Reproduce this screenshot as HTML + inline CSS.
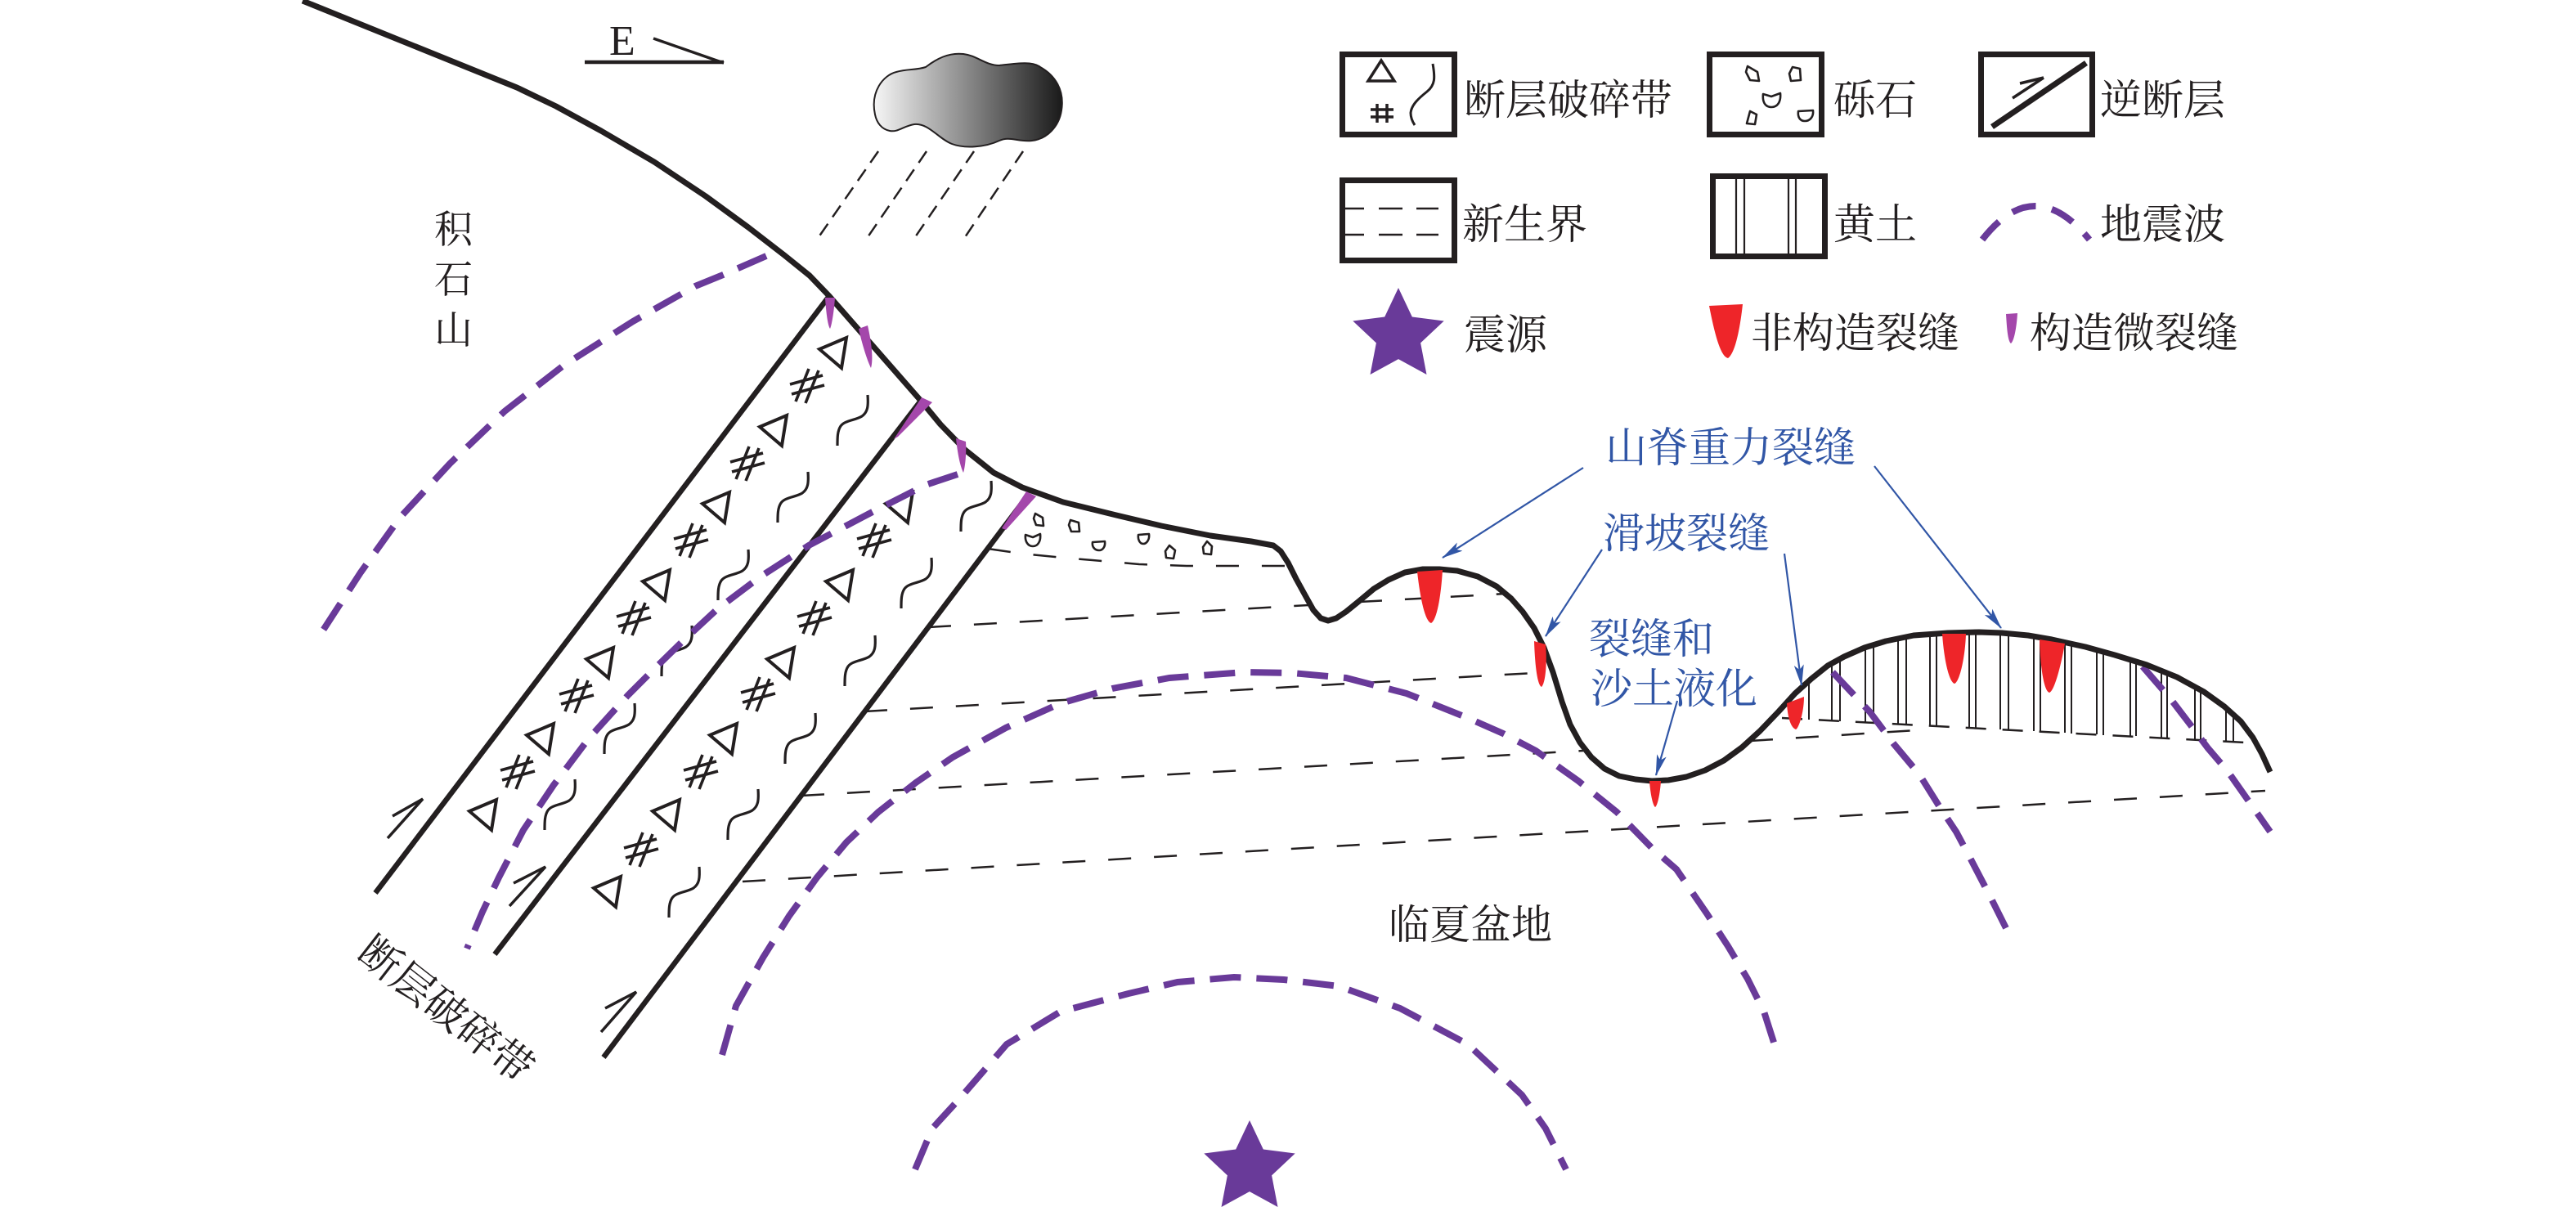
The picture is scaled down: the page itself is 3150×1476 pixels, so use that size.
<!DOCTYPE html>
<html><head><meta charset="utf-8">
<style>
html,body{margin:0;padding:0;background:#fff;}
svg{display:block;}
.t{font-family:"Liberation Serif","Noto Serif CJK SC",serif;fill:#231f20;}
.b{font-family:"Liberation Serif","Noto Serif CJK SC",serif;fill:#3156a6;}
.tri{fill:none;stroke:#231f20;stroke-width:4;stroke-linejoin:miter;}
.hs{fill:none;stroke:#231f20;stroke-width:3.6;}
.wv{fill:none;stroke:#231f20;stroke-width:3.2;}
.dl{fill:none;stroke:#231f20;stroke-width:2.5;stroke-dasharray:28 28;}
.arc{fill:none;stroke:#693a99;stroke-width:8;stroke-dasharray:38 19;}
.red{fill:#ee2529;}
.mag{fill:#a447ab;}
.blu{stroke:#3156a6;stroke-width:2.2;fill:none;}
.gr{fill:none;stroke:#231f20;stroke-width:2.6;stroke-linejoin:round;}
</style></head><body>
<svg width="3150" height="1476" viewBox="0 0 3150 1476" xmlns="http://www.w3.org/2000/svg">
<defs>
 <linearGradient id="cg" x1="0" y1="0" x2="1" y2="0">
  <stop offset="0" stop-color="#f6f6f6"/><stop offset="1" stop-color="#1a1a1a"/>
 </linearGradient>
 <marker id="ah" markerUnits="userSpaceOnUse" viewBox="0 0 26 12" refX="25" refY="6" markerWidth="26" markerHeight="12" orient="auto">
  <path d="M0,0 L26,6 L0,12 L6,6 Z" fill="#3156a6"/>
 </marker>
</defs>

<!-- ============ LEGEND ============ -->
<rect x="1641.5" y="66.5" width="137" height="98" fill="none" stroke="#231f20" stroke-width="7"/>
<path d="M1689,74 L1673,99 L1705,99 Z" fill="none" stroke="#231f20" stroke-width="3.5"/>
<path d="M1684,127 V150 M1696,127 V150 M1676,134 H1704 M1676,143 H1704" fill="none" stroke="#231f20" stroke-width="3.5"/>
<path d="M1752,78 C1755,95 1755,104 1745,112 C1735,120 1726,128 1725,138 C1725,145 1728,150 1730,153" fill="none" stroke="#231f20" stroke-width="3"/>
<text class="t" x="1790" y="140" font-size="51">断层破碎带</text>

<rect x="2090.5" y="66.5" width="137" height="98" fill="none" stroke="#231f20" stroke-width="7"/>
<path class="gr" d="M2137,81 L2149,88 L2151,99 L2140,98 L2135,88 Z"/>
<path class="gr" d="M2192,82 L2201,84 L2202,98 L2190,99 L2188,90 Z"/>
<path class="gr" d="M2156,115 L2166,118 L2177,114 C2178,124 2174,131 2166,131 C2158,131 2155,124 2156,115 Z"/>
<path class="gr" d="M2140,136 L2148,140 L2146,152 L2136,151 Z"/>
<path class="gr" d="M2199,136 L2217,135 C2218,143 2213,148 2207,148 C2201,148 2198,143 2199,136 Z"/>
<text class="t" x="2242" y="140" font-size="51">砾石</text>

<rect x="2422.5" y="66.5" width="136" height="98" fill="none" stroke="#231f20" stroke-width="7"/>
<path d="M2436,155 L2551,77" stroke="#231f20" stroke-width="7"/>
<path d="M2461,120 L2499,95 M2470,102 L2499,95" stroke="#231f20" stroke-width="3.5" fill="none"/>
<text class="t" x="2568" y="140" font-size="51">逆断层</text>

<rect x="1641.5" y="220.5" width="137" height="98" fill="none" stroke="#231f20" stroke-width="7"/>
<path d="M1645,255 h23 M1686,255 h29 M1732,255 h27 M1645,287 h23 M1686,287 h29 M1732,287 h27" stroke="#231f20" stroke-width="2.5"/>
<text class="t" x="1788" y="292" font-size="51">新生界</text>

<rect x="2094.5" y="215.5" width="137" height="98" fill="none" stroke="#231f20" stroke-width="7"/>
<path d="M2123,215 V314 M2133,215 V314 M2187,215 V314 M2196,215 V314" stroke="#231f20" stroke-width="2.2"/>
<text class="t" x="2242" y="292" font-size="51">黄土</text>

<path d="M2424,293 Q2488,211 2555,293" fill="none" stroke="#693a99" stroke-width="8" stroke-dasharray="30 20"/>
<text class="t" x="2568" y="292" font-size="51">地震波</text>

<polygon fill="#693a99" points="1710,352 1726.8,387.5 1765.7,392.5 1737.1,419.4 1744.5,458 1710,439.1 1675.5,458 1682.9,419.4 1654.3,392.5 1693.2,387.5"/>
<text class="t" x="1790" y="427" font-size="51">震源</text>

<path class="red" d="M2090,374 L2131,372 C2128,400 2122,432 2113,438 C2104,436 2097,410 2090,374 Z"/>
<text class="t" x="2141" y="425" font-size="51">非构造裂缝</text>
<path class="mag" d="M2453,384 L2467,383 C2466,400 2463,417 2459,420 C2455,417 2454,400 2453,384 Z"/>
<text class="t" x="2482" y="425" font-size="51">构造微裂缝</text>

<!-- ============ TOP LEFT: E arrow, cloud, rain ============ -->
<text x="745" y="67" font-size="52" font-family="Liberation Serif, serif" fill="#231f20">E</text>
<path d="M715,76 L885,76" stroke="#231f20" stroke-width="4.5"/>
<path d="M799,47 L885,77" stroke="#231f20" stroke-width="3.5"/>

<path d="M1070,140 C1064,112 1080,92 1096,88 C1110,84 1120,86 1132,82 C1145,72 1160,64 1178,66 C1195,68 1205,80 1222,80 C1240,78 1262,74 1272,82 C1290,92 1302,110 1298,135 C1295,155 1280,170 1262,172 C1245,174 1235,166 1222,172 C1205,180 1180,182 1164,176 C1148,170 1135,150 1118,152 C1105,154 1098,162 1088,160 C1078,158 1072,150 1070,140 Z" fill="url(#cg)" stroke="#231f20" stroke-width="2"/>
<g stroke="#231f20" stroke-width="2.5" stroke-dasharray="17 10" fill="none">
 <path d="M1074,185 L1001,290"/>
 <path d="M1133,185 L1061,290"/>
 <path d="M1191,185 L1119,290"/>
 <path d="M1251,185 L1180,290"/>
</g>

<!-- 积石山 -->
<text class="t" x="531" y="297" font-size="47">积</text>
<text class="t" x="531" y="358" font-size="47">石</text>
<text class="t" x="531" y="420" font-size="47">山</text>

<!-- ============ STRATA DASHED LINES ============ -->
<polyline class="dl" points="1208,671 1250,677 1300,682 1336,685 1393,690 1451,692 1520,692 1577,692"/>
<polyline class="dl" points="1135,767 1600,740"/>
<polyline class="dl" points="1662,736 1842,726"/>
<polyline class="dl" points="1057,870 1893,822"/>
<polyline class="dl" points="980,973 1936,918"/>
<polyline class="dl" points="2140,906 2343,893"/>
<polyline class="dl" points="908,1078 2770,967"/>
<polyline points="2179,878 2746,908" fill="none" stroke="#231f20" stroke-width="2.5" stroke-dasharray="25 20"/>

<!-- loess vertical hatch -->
<path d="M2212,833 V880 M2240,811 V881 M2250,806 V882 M2281,792 V883 M2291,788 V884 M2321,781 V886 M2331,779 V886 M2360,775 V888 M2368,775 V888 M2408,773 V890 M2416,773 V891 M2446,774 V892 M2456,775 V893 M2487,778 V894 M2495,779 V895 M2525,786 V896 M2533,787 V897 M2564,795 V898 M2572,797 V899 M2605,807 V900 M2612,809 V900 M2643,820 V902 M2650,823 V902 M2684,840 V904 M2691,844 V904 M2722,866 V906 M2731,876 V907" stroke="#231f20" stroke-width="2"/>

<!-- ============ FAULT ZONE ============ -->
<g stroke="#231f20" stroke-width="6.5" fill="none">
 <path d="M1014,362 L459,1092"/>
 <path d="M1126,490 L605,1167"/>
 <path d="M1259,603 L738,1293"/>
</g>
<!-- half arrows -->
<g stroke="#231f20" stroke-width="3.5" fill="none">
 <path d="M474,1025 L517,977 L480,998"/>
 <path d="M623,1108 L667,1060 L628,1080"/>
 <path d="M735,1262 L778,1213 L740,1233"/>
</g>

<!-- triangles -->
<path class="tri" transform="translate(1002,413)" d="M33,0 L0,14 L27,37 Z"/>
<path class="tri" transform="translate(929,508)" d="M33,0 L0,14 L27,37 Z"/>
<path class="tri" transform="translate(859,602)" d="M33,0 L0,14 L27,37 Z"/>
<path class="tri" transform="translate(786,697)" d="M33,0 L0,14 L27,37 Z"/>
<path class="tri" transform="translate(717,792)" d="M33,0 L0,14 L27,37 Z"/>
<path class="tri" transform="translate(644,885)" d="M33,0 L0,14 L27,37 Z"/>
<path class="tri" transform="translate(574,978)" d="M33,0 L0,14 L27,37 Z"/>
<path class="tri" transform="translate(1083,602)" d="M33,0 L0,14 L27,37 Z"/>
<path class="tri" transform="translate(1010,697)" d="M33,0 L0,14 L27,37 Z"/>
<path class="tri" transform="translate(938,792)" d="M33,0 L0,14 L27,37 Z"/>
<path class="tri" transform="translate(868,885)" d="M33,0 L0,14 L27,37 Z"/>
<path class="tri" transform="translate(798,978)" d="M33,0 L0,14 L27,37 Z"/>
<path class="tri" transform="translate(726,1072)" d="M33,0 L0,14 L27,37 Z"/>
<!-- hashes -->
<path class="hs" transform="translate(966,451)" d="M23,0 L7,40 M35,2 L19,42 M0,19 L40,8 M2,31 L42,20"/>
<path class="hs" transform="translate(893,546)" d="M23,0 L7,40 M35,2 L19,42 M0,19 L40,8 M2,31 L42,20"/>
<path class="hs" transform="translate(824,640)" d="M23,0 L7,40 M35,2 L19,42 M0,19 L40,8 M2,31 L42,20"/>
<path class="hs" transform="translate(754,735)" d="M23,0 L7,40 M35,2 L19,42 M0,19 L40,8 M2,31 L42,20"/>
<path class="hs" transform="translate(684,830)" d="M23,0 L7,40 M35,2 L19,42 M0,19 L40,8 M2,31 L42,20"/>
<path class="hs" transform="translate(612,923)" d="M23,0 L7,40 M35,2 L19,42 M0,19 L40,8 M2,31 L42,20"/>
<path class="hs" transform="translate(1048,640)" d="M23,0 L7,40 M35,2 L19,42 M0,19 L40,8 M2,31 L42,20"/>
<path class="hs" transform="translate(975,735)" d="M23,0 L7,40 M35,2 L19,42 M0,19 L40,8 M2,31 L42,20"/>
<path class="hs" transform="translate(906,828)" d="M23,0 L7,40 M35,2 L19,42 M0,19 L40,8 M2,31 L42,20"/>
<path class="hs" transform="translate(836,923)" d="M23,0 L7,40 M35,2 L19,42 M0,19 L40,8 M2,31 L42,20"/>
<path class="hs" transform="translate(763,1018)" d="M23,0 L7,40 M35,2 L19,42 M0,19 L40,8 M2,31 L42,20"/>
<!-- waves -->
<path class="wv" transform="translate(1020,483)" d="M41,0 C42,14 41,21 34,26 C26,31 13,31 8,38 C4,44 4,52 4,62"/>
<path class="wv" transform="translate(947,577)" d="M41,0 C42,14 41,21 34,26 C26,31 13,31 8,38 C4,44 4,52 4,62"/>
<path class="wv" transform="translate(874,672)" d="M41,0 C42,14 41,21 34,26 C26,31 13,31 8,38 C4,44 4,52 4,62"/>
<path class="wv" transform="translate(805,765)" d="M41,0 C42,14 41,21 34,26 C26,31 13,31 8,38 C4,44 4,52 4,62"/>
<path class="wv" transform="translate(735,860)" d="M41,0 C42,14 41,21 34,26 C26,31 13,31 8,38 C4,44 4,52 4,62"/>
<path class="wv" transform="translate(662,953)" d="M41,0 C42,14 41,21 34,26 C26,31 13,31 8,38 C4,44 4,52 4,62"/>
<path class="wv" transform="translate(1171,588)" d="M41,0 C42,14 41,21 34,26 C26,31 13,31 8,38 C4,44 4,52 4,62"/>
<path class="wv" transform="translate(1098,682)" d="M41,0 C42,14 41,21 34,26 C26,31 13,31 8,38 C4,44 4,52 4,62"/>
<path class="wv" transform="translate(1029,777)" d="M41,0 C42,14 41,21 34,26 C26,31 13,31 8,38 C4,44 4,52 4,62"/>
<path class="wv" transform="translate(956,872)" d="M41,0 C42,14 41,21 34,26 C26,31 13,31 8,38 C4,44 4,52 4,62"/>
<path class="wv" transform="translate(886,965)" d="M41,0 C42,14 41,21 34,26 C26,31 13,31 8,38 C4,44 4,52 4,62"/>
<path class="wv" transform="translate(814,1060)" d="M41,0 C42,14 41,21 34,26 C26,31 13,31 8,38 C4,44 4,52 4,62"/>

<!-- gravels on surface -->
<path class="gr" d="M1266,628 L1275,633 L1276,643 L1267,642 L1264,634 Z"/>
<path class="gr" d="M1254,654 L1263,657 L1272,653 C1273,662 1269,668 1263,668 C1257,668 1253,662 1254,654 Z"/>
<path class="gr" d="M1309,636 L1319,639 L1320,650 L1310,650 L1307,642 Z"/>
<path class="gr" d="M1336,663 L1351,662 C1352,669 1348,673 1344,673 C1339,673 1335,669 1336,663 Z"/>
<path class="gr" d="M1392,654 L1405,653 C1406,660 1402,665 1398,665 C1394,665 1391,660 1392,654 Z"/>
<path class="gr" d="M1430,667 L1437,673 L1435,683 L1426,682 L1425,674 Z"/>
<path class="gr" d="M1476,662 L1482,668 L1481,678 L1472,677 L1471,669 Z"/>

<!-- ============ SEISMIC ARCS ============ -->
<polyline class="arc" points="937,313 882,337 850,350 774,393 689,447 617,503 550,567 489,633 441,700 389,780"/>
<polyline class="arc" points="1171,580 1132,593 1065,627 989,667 930,705 877,745 837,782 798,820 768,850 720,903 677,960 640,1015 610,1073 590,1115 571,1160"/>
<polyline class="arc" points="2241,822 2286,870 2316,910 2347,947 2372,987 2392,1017 2408,1047 2434,1097 2457,1143"/>
<polyline class="arc" points="2620,815 2653,853 2679,887 2700,915 2724,943 2750,980 2776,1017"/>
<polyline class="arc" points="883,1290 900,1230 933,1171 965,1120 999,1073 1035,1030 1074,993 1120,957 1165,926 1230,890 1297,860 1360,842 1430,829 1521,822 1580,823 1646,829 1720,848 1795,878 1838,897 1878,918 1930,955 1977,993 2020,1037 2050,1063 2087,1117 2113,1157 2137,1197 2157,1237 2172,1284"/>
<polyline class="arc" points="1119,1430 1140,1380 1173,1344 1231,1277 1297,1237 1380,1215 1440,1201 1509,1195 1570,1198 1637,1206 1712,1233 1795,1277 1861,1339 1890,1380 1915,1430"/>

<!-- ============ SURFACE ============ -->
<polyline fill="none" stroke="#231f20" stroke-width="7" stroke-linejoin="round" points="370,1 632,107 680,130 735,160 800,198 863,240 915,278 959,312 990,337 1014,362 1126,490 1150,519 1180,550 1215,578 1250,596 1300,614 1365,630 1420,643 1480,655 1530,662 1557,667 1566,674 1575,688 1585,708 1596,728 1606,746 1615,756 1624,759 1634,756 1646,748 1662,735 1680,720 1698,709 1718,700 1740,696 1760,696 1782,698 1807,705 1830,717 1848,732 1862,748 1876,768 1888,792 1899,822 1910,858 1920,886 1932,908 1946,926 1962,940 1980,949 2000,953 2020,955 2040,954 2062,950 2085,942 2108,930 2130,914 2152,894 2175,870 2195,848 2215,830 2235,814 2255,803 2280,792 2306,784 2340,777 2382,774 2420,773 2448,774 2480,777 2509,782 2550,791 2586,801 2625,813 2662,828 2695,846 2720,864 2740,882 2755,902 2766,922 2776,944"/>

<!-- magenta tectonic micro-cracks -->
<path class="mag" d="M1009,364 L1021,364 C1020,380 1017,398 1015,402 C1012,398 1010,380 1009,364 Z"/>
<path class="mag" d="M1050,402 L1061,398 C1066,420 1068,440 1065,450 C1060,440 1054,420 1050,402 Z"/>
<path class="mag" d="M1127,486 L1140,492 L1098,534 L1093,537 Z"/>
<path class="mag" d="M1169,536 L1181,540 C1182,555 1180,572 1178,578 C1174,570 1171,555 1169,536 Z"/>
<path class="mag" d="M1255,601 L1267,607 L1230,648 L1225,646 Z"/>

<!-- red non-tectonic cracks -->
<path class="red" d="M1733,699 L1764,697 C1762,730 1757,758 1750,762 C1743,760 1737,735 1733,699 Z"/>
<path class="red" d="M1876,784 L1890,788 C1892,810 1890,835 1885,840 C1880,838 1877,815 1876,784 Z"/>
<path class="red" d="M2017,955 L2031,955 C2030,970 2027,985 2024,987 C2021,985 2018,970 2017,955 Z"/>
<path class="red" d="M2185,860 L2206,852 C2206,870 2200,890 2196,892 C2190,890 2186,878 2185,860 Z"/>
<path class="red" d="M2375,775 L2404,775 C2403,805 2396,834 2390,836 C2383,834 2377,805 2375,775 Z"/>
<path class="red" d="M2494,782 L2525,787 C2520,815 2512,845 2506,847 C2499,845 2495,815 2494,782 Z"/>

<!-- epicenter star -->
<polygon fill="#693a99" points="1528,1370 1544.8,1405.5 1583.7,1410.5 1555.1,1437.4 1562.5,1476 1528,1457.1 1493.5,1476 1500.9,1437.4 1472.3,1410.5 1511.2,1405.5"/>

<!-- ============ BLUE LABELS & ARROWS ============ -->
<text class="b" x="1963" y="565" font-size="51">山脊重力裂缝</text>
<text class="b" x="1960" y="670" font-size="51">滑坡裂缝</text>
<text class="b" x="1943" y="799" font-size="51">裂缝和</text>
<text class="b" x="1945" y="860" font-size="51">沙土液化</text>
<path class="blu" d="M1936,572 L1764,682" marker-end="url(#ah)"/>
<path class="blu" d="M2292,570 L2447,768" marker-end="url(#ah)"/>
<path class="blu" d="M1959,672 L1890,778" marker-end="url(#ah)"/>
<path class="blu" d="M2182,677 L2203,838" marker-end="url(#ah)"/>
<path class="blu" d="M2051,857 L2025,948" marker-end="url(#ah)"/>

<!-- other labels -->
<text class="t" x="1698" y="1148" font-size="50">临夏盆地</text>
<text class="t" transform="translate(434,1170) rotate(38)" x="0" y="0" font-size="51">断层破碎带</text>
</svg>
</body></html>
